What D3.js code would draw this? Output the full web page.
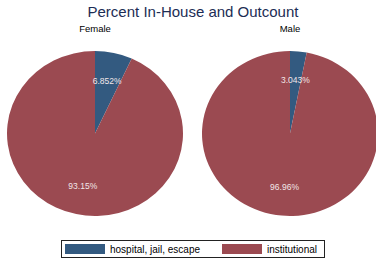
<!DOCTYPE html>
<html>
<head>
    <title>Percent In-House and Outcount</title>
    <script src="https://d3js.org/d3.v7.min.js"></script>
    <style>
        body { margin: 0; background-color: white; }
        text { font-family: "Liberation Sans", Arial, sans-serif; }
    </style>
</head>
<body>
<div id="chart"></div>
<script>
// data
var groups = ["Female", "Male"];
var categories = ["hospital, jail, escape", "institutional"];
var femaleValues = [6.852, 93.15];
var maleValues = [3.043, 96.96];
var labels = [["6.852%", "93.15%"], ["3.043%", "96.96%"]];

var width = 376, height = 261;

var svg = d3.select("#chart")
    .append("svg")
    .attr("width", width)
    .attr("height", height);

// colours for the two categories
var color = d3.scaleOrdinal()
    .domain(categories)
    .range(["#335a80", "#9b4a51"]);

// pie centres
var x = d3.scalePoint()
    .domain(groups)
    .range([95, 290]);

var ry = 82.5;       // vertical radius
var sx = 88 / 82.5;  // stata stretches the pie a bit horizontally

// title
svg.append("text")
    .attr("x", 193)
    .attr("y", 17)
    .attr("text-anchor", "middle")
    .style("font-size", "15px")
    .style("fill", "#1c2d55")
    .text("Percent In-House and Outcount");

var pie = d3.pie().sort(null);
var arc = d3.arc().innerRadius(0).outerRadius(ry);

[femaleValues, maleValues].forEach(function(vals, gi) {
    var cx = x(groups[gi]), cy = 133.5;

    svg.append("text")
        .attr("x", cx)
        .attr("y", 32)
        .attr("text-anchor", "middle")
        .style("font-size", "9.5px")
        .style("fill", "black")
        .text(groups[gi]);

    var g = svg.append("g")
        .attr("transform", "translate(" + cx + "," + cy + ") scale(" + sx + ",1)");

    var slices = pie(vals);

    g.selectAll("path")
        .data(slices)
        .enter().append("path")
        .attr("d", arc)
        .attr("fill", function(d, i) { return color(categories[i]); });

    // labels at ~0.65 of the radius along the mid-angle
    svg.selectAll(".lab" + gi)
        .data(slices)
        .enter().append("text")
        .attr("class", "lab" + gi)
        .attr("x", function(d) {
            var a = (d.startAngle + d.endAngle) / 2;
            return cx + Math.sin(a) * ry * sx * 0.65;
        })
        .attr("y", function(d) {
            var a = (d.startAngle + d.endAngle) / 2;
            return cy - Math.cos(a) * ry * 0.65 + 3;
        })
        .attr("text-anchor", "middle")
        .style("font-size", "8.5px")
        .style("fill", "#f2e6e8")
        .text(function(d, i) { return labels[gi][i]; });
});

// legend
var legend = svg.append("g");
legend.append("rect")
    .attr("x", 61.5)
    .attr("y", 240.5)
    .attr("width", 263)
    .attr("height", 17)
    .attr("fill", "white")
    .attr("stroke", "#222")
    .attr("stroke-width", 1);

var legX = [65, 222];
var items = legend.selectAll(".leg")
    .data(categories)
    .enter().append("g")
    .attr("class", "leg")
    .attr("transform", function(d, i) { return "translate(" + legX[i] + ",244)"; });

items.append("rect")
    .attr("width", 40)
    .attr("height", 10)
    .attr("fill", function(d) { return color(d); });

items.append("text")
    .attr("x", 45)
    .attr("y", 9)
    .style("font-size", "10px")
    .style("fill", "black")
    .text(function(d) { return d; });
</script>
</body>
</html>
